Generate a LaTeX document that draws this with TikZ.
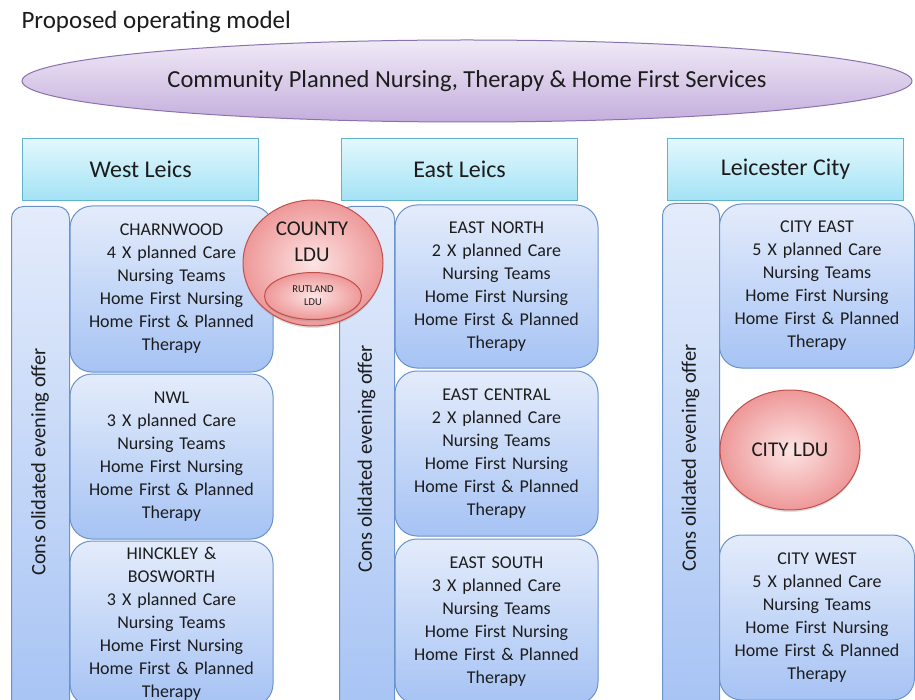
\documentclass[tikz,border=0pt]{standalone}
\usepackage{fontspec}
\setmainfont{Carlito}
\usepackage{xcolor}
\usepackage{tikz}
\usetikzlibrary{positioning,shapes.geometric,shadows}
\definecolor{opmtext}{HTML}{1C1C1C}
\definecolor{opmlilac}{HTML}{F0EAF6}
\definecolor{opmlilacdark}{HTML}{C4AEDD}
\definecolor{opmlilacline}{HTML}{8A72AE}
\definecolor{opmcyan}{HTML}{E3F8FD}
\definecolor{opmcyandark}{HTML}{A3E2F5}
\definecolor{opmcyanline}{HTML}{5FB4CC}
\definecolor{opmblue}{HTML}{E4ECFB}
\definecolor{opmbluedark}{HTML}{A6C3F4}
\definecolor{opmblueline}{HTML}{6A93CB}
\definecolor{opmred}{HTML}{FDE4E4}
\definecolor{opmreddark}{HTML}{EE9898}
\definecolor{opmredline}{HTML}{C0504D}

\begin{document}
\begin{tikzpicture}[x=1pt,y=-1pt,font=\fontsize{18}{23}\selectfont,
  every node/.style={text=opmtext},
  areabox/.style={draw=opmcyanline,line width=1.2pt,top color=opmcyan,bottom color=opmcyandark,
    minimum width=236pt,minimum height=62pt,anchor=north west,font=\fontsize{24}{28}\selectfont},
  barbox/.style={draw=opmblueline,line width=1pt,top color=opmblue,bottom color=opmbluedark,
    rounded corners=12pt,minimum height=512pt,anchor=north west},
  offerlabel/.style={rotate=90,font=\fontsize{20.5}{24}\selectfont},
  distbox/.style={draw=opmblueline,line width=1pt,top color=opmblue,bottom color=opmbluedark,
    rounded corners=22pt,minimum width=203pt,minimum height=165pt,text width=195pt,align=center,
    inner sep=0pt},
  ldu/.style={ellipse,draw=opmredline,line width=1pt,inner color=opmred,outer color=opmreddark,inner sep=0pt,
    drop shadow={opacity=0.25,shadow xshift=0pt,shadow yshift=-2pt}}]
  \clip (0,0) rectangle (915,700);
  \fill[white] (0,0) rectangle (915,700);

  % heading and service ellipse
  \node[anchor=west,font=\fontsize{25}{29}\selectfont] (title) at (18,22) {Proposed operating model};
  \node[ellipse,draw=opmlilacline,line width=1pt,top color=opmlilac,bottom color=opmlilacdark,
    minimum width=890pt,minimum height=82pt,inner sep=0pt,font=\fontsize{24.5}{28}\selectfont]
    (services) at (467,81) {Community Planned Nursing, Therapy \& Home First Services};

  % area headers
  \node[areabox] (west) at (22,138) {West Leics};
  \node[areabox] (east) at (341,138) {East Leics};
  \node[areabox] (city) at (667,138) {Leicester City};

  % evening offer bars
  \node[barbox,minimum width=58pt] (westbar) at (11,206) {};
  \node[barbox,minimum width=55pt] (eastbar) at (339,206) {};
  \node[barbox,minimum width=57pt] (citybar) at (662,203) {};
  \node[offerlabel] (westoffer) at (40,462) {Cons olidated evening offer};
  \node[offerlabel] (eastoffer) at (366.5,459) {Cons olidated evening offer};
  \node[offerlabel] (cityoffer) at (690.5,458) {Cons olidated evening offer};

  % West Leics teams
  \node[distbox,minimum height=166pt] (charnwood) at (171.5,289) {CHARNWOOD\\4 X planned Care\\Nursing Teams\\Home First Nursing\\Home First \& Planned\\Therapy};
  \node[distbox,below=1pt of charnwood] (nwl) {NWL\\3 X planned Care\\Nursing Teams\\Home First Nursing\\Home First \& Planned\\Therapy};
  \node[distbox,below=1pt of nwl] (hinckley) {HINCKLEY \&\\BOSWORTH\\3 X planned Care\\Nursing Teams\\Home First Nursing\\Home First \& Planned\\Therapy};

  % East Leics teams
  \node[distbox,minimum height=163pt] (eastnorth) at (496.5,286.5) {EAST NORTH\\2 X planned Care\\Nursing Teams\\Home First Nursing\\Home First \& Planned\\Therapy};
  \node[distbox,below=2pt of eastnorth] (eastcentral) {EAST CENTRAL\\2 X planned Care\\Nursing Teams\\Home First Nursing\\Home First \& Planned\\Therapy};
  \node[distbox,below=2pt of eastcentral] (eastsouth) {EAST SOUTH\\3 X planned Care\\Nursing Teams\\Home First Nursing\\Home First \& Planned\\Therapy};

  % Leicester City teams
  \node[distbox,minimum width=194pt,minimum height=164pt] (cityeast) at (817,286) {CITY EAST\\5 X planned Care\\Nursing Teams\\Home First Nursing\\Home First \& Planned\\Therapy};
  \node[distbox,minimum width=194pt] (citywest) at (817,617.5) {CITY WEST\\5 X planned Care\\Nursing Teams\\Home First Nursing\\Home First \& Planned\\Therapy};

  % delivery units
  \node[ldu,minimum width=140pt,minimum height=126pt] (county) at (313,263) {};
  \node[font=\fontsize{21}{26}\selectfont,align=center] (countylabel) at (312,242) {COUNTY\\LDU};
  \node[ldu,minimum width=97pt,minimum height=47pt,font=\fontsize{10.5}{13}\selectfont,align=center]
    (rutland) at (313,296) {RUTLAND\\LDU};
  \node[ldu,minimum width=140pt,minimum height=120pt,font=\fontsize{21}{25}\selectfont] (citylu) at (790,450) {CITY LDU};
\end{tikzpicture}
\end{document}
